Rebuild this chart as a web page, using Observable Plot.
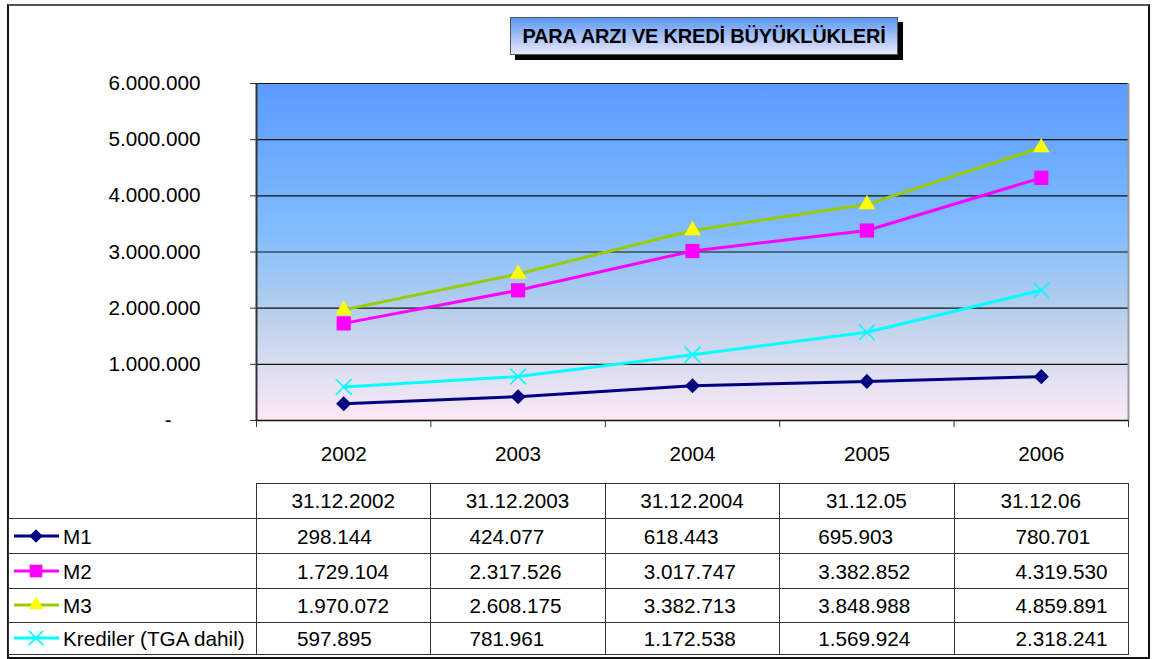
<!DOCTYPE html>
<html>
<head>
<meta charset="utf-8">
<script src="https://cdn.jsdelivr.net/npm/d3@7"></script>
<script src="https://cdn.jsdelivr.net/npm/@observablehq/plot@0.6"></script>
<style>
  body { margin: 0; background: #fff; font-family: Arial, "Liberation Sans", sans-serif; }
  #wrap { position: relative; width: 1153px; height: 659px; overflow: hidden; }
  #frame { position: absolute; left: 7px; top: 4px; width: 1139px; height: 651px; border: 2px solid #111; border-top-color: #555; box-sizing: content-box; }
  #title { position: absolute; left: 510px; top: 17px; width: 388px; height: 38px; box-sizing: border-box; border: 1px solid #555;
           background: linear-gradient(#5a98f4, #eae7fb); box-shadow: 5px 5px 0 #000; font-weight: bold; font-size: 20px;
           display: flex; align-items: center; justify-content: center; color: #000; white-space: nowrap; letter-spacing: -0.2px; }
  #chart { position: absolute; left: 0; top: 0; }
  .hl { position: absolute; height: 1px; background: #333; }
  .vl { position: absolute; width: 1px; background: #333; }
  .cell { position: absolute; font-size: 20.7px; line-height: 20px; color: #000; white-space: nowrap; }
</style>
</head>
<body>
<div id="wrap">
  <div id="frame"></div>
  <div id="chart"></div>
  <div id="title"></div>
  <div id="table"></div>
</div>
<script>
// ---- data ----
const chartTitle = "PARA ARZI VE KREDİ BÜYÜKLÜKLERİ";
const years = ["2002", "2003", "2004", "2005", "2006"];
const dates = ["31.12.2002", "31.12.2003", "31.12.2004", "31.12.05", "31.12.06"];
const seriesNames = ["M1", "M2", "M3", "Krediler (TGA dahil)"];
const m1 = [298144, 424077, 618443, 695903, 780701];
const m2 = [1729104, 2317526, 3017747, 3382852, 4319530];
const m3 = [1970072, 2608175, 3382713, 3848988, 4859891];
const krediler = [597895, 781961, 1172538, 1569924, 2318241];
const yTicks = [0, 1000000, 2000000, 3000000, 4000000, 5000000, 6000000];

// ---- styles ----
const seriesValues = [m1, m2, m3, krediler];
const seriesStyle = [
  {line: "#000080", fill: "#000080", stroke: "#000080", symbol: "diamond2", r: 6.8, sw: 0},
  {line: "#ff00ff", fill: "#ff00ff", stroke: "#ff00ff", symbol: "square", r: 8, sw: 0},
  {line: "#99cc00", fill: "#ffff00", stroke: "#ffff00", symbol: "triangle", r: 6.2, sw: 0},
  {line: "#00ffff", fill: "none", stroke: "#00ffff", symbol: "times", r: 7.3, sw: 1.6}
];

const tr = d3.formatLocale({decimal: ",", thousands: ".", grouping: [3], currency: ["", ""]});
const fmtNum = tr.format(",");
const fmtY = v => v === 0 ? "-" + "\u00a0".repeat(5) : fmtNum(v);

document.getElementById("title").textContent = chartTitle;

const W = 1153, H = 480;
const mL = 256, mR = 25, mT = 83, mB = 60;
const boundaries = d3.range(years.length + 1).map(i => i - 0.5);

const defsMark = () => {
  const defs = d3.create("svg:defs");
  const g = defs.append("linearGradient").attr("id", "bg").attr("x1", 0).attr("y1", 0).attr("x2", 0).attr("y2", 1);
  [[0, "#5c9bff"], [0.2, "#6aaaff"], [0.45, "#84bdfc"], [0.7, "#bcd1ec"], [0.85, "#dcdff1"], [1, "#fde8f6"]]
    .forEach(([o, c]) => g.append("stop").attr("offset", o).attr("stop-color", c));
  return defs.node();
};

const marks = [
  defsMark,
  Plot.frame({fill: "url(#bg)", stroke: "none"}),
  Plot.ruleY(yTicks.slice(1), {stroke: "#111", strokeWidth: 1.2}),
  Plot.ruleX([boundaries[boundaries.length - 1]], {stroke: "#9a9a9a", strokeWidth: 2}),
  Plot.ruleX([boundaries[0]], {stroke: "#333", strokeWidth: 2}),
  Plot.ruleY([0], {stroke: "#111", strokeWidth: 1.5}),
  Plot.axisY({ticks: yTicks, tickSize: 6, tickPadding: 50, tickFormat: fmtY, fontSize: 20.7, stroke: "#333", label: null}),
  Plot.axisX({ticks: boundaries, tickSize: 7, tickFormat: () => "", stroke: "#333", label: null}),
  Plot.axisX({ticks: d3.range(years.length), tickSize: 0, tickPadding: 26, tickFormat: i => years[i], fontSize: 20.7, label: null})
];

seriesValues.forEach((vals, s) => {
  const data = vals.map((v, i) => ({i, v}));
  const st = seriesStyle[s];
  marks.push(Plot.line(data, {x: "i", y: "v", stroke: st.line, strokeWidth: 3}));
  marks.push(Plot.dot(data, {x: "i", y: "v", symbol: () => st.symbol, r: st.r, fill: st.fill,
    stroke: st.stroke, strokeWidth: st.sw}));
});

const plot = Plot.plot({
  width: W, height: H,
  marginLeft: mL, marginRight: mR, marginTop: mT, marginBottom: mB,
  style: {fontFamily: "Arial, 'Liberation Sans', sans-serif", fontSize: "20px", background: "transparent", color: "#000"},
  x: {domain: [boundaries[0], boundaries[boundaries.length - 1]], label: null},
  y: {domain: [yTicks[0], yTicks[yTicks.length - 1]], label: null},
  symbol: {type: "identity"},
  marks
});
document.getElementById("chart").appendChild(plot);

// ---- data table below the chart, columns aligned to the x scale ----
const xs = plot.scale("x");
const colX = boundaries.map(b => xs.apply(b));
const tableLeft = 8;
const rowY = [483, 518, 553, 588, 622, 654];
const padLeft = [41, 39, 39, 39, 62];
const tbl = document.getElementById("table");
const add = (cls, css, html) => {
  const d = document.createElement("div");
  d.className = cls;
  Object.assign(d.style, css);
  if (html != null) d.textContent = html;
  tbl.appendChild(d);
  return d;
};
// horizontal lines
add("hl", {left: colX[0] + "px", top: rowY[0] + "px", width: (colX[colX.length - 1] - colX[0] + 1) + "px"});
rowY.slice(1).forEach(y => add("hl", {left: tableLeft + "px", top: y + "px", width: (colX[colX.length - 1] - tableLeft + 1) + "px"}));
// vertical lines
add("vl", {left: tableLeft + "px", top: rowY[1] + "px", height: (rowY[rowY.length - 1] - rowY[1] + 1) + "px"});
colX.forEach(x => add("vl", {left: Math.round(x) + "px", top: rowY[0] + "px", height: (rowY[rowY.length - 1] - rowY[0] + 1) + "px"}));
// header
dates.forEach((d, i) => {
  add("cell", {left: colX[i] + "px", width: (colX[i + 1] - colX[i]) + "px", textAlign: "center",
    top: ((rowY[0] + rowY[1]) / 2 - 10) + "px"}, d);
});
// rows
seriesNames.forEach((name, s) => {
  const yc = (rowY[s + 1] + rowY[s + 2]) / 2;
  const st = seriesStyle[s];
  // legend key
  const svg = d3.create("svg").attr("width", 50).attr("height", 20)
    .style("position", "absolute").style("left", "12px").style("top", (yc - 10) + "px");
  svg.append("line").attr("x1", 2).attr("x2", 47).attr("y1", 10).attr("y2", 10)
    .attr("stroke", st.line).attr("stroke-width", 3);
  const symMap = {diamond2: d3.symbolDiamond2, square: d3.symbolSquare, triangle: d3.symbolTriangle, times: d3.symbolTimes};
  svg.append("path").attr("transform", "translate(24,10)")
    .attr("d", d3.symbol(symMap[st.symbol], Math.PI * st.r * st.r * 0.8)())
    .attr("fill", st.fill).attr("stroke", st.stroke).attr("stroke-width", st.sw);
  tbl.appendChild(svg.node());
  add("cell", {left: "63px", top: (yc - 9) + "px"}, name);
  seriesValues[s].forEach((v, i) => {
    add("cell", {left: (colX[i] + padLeft[i]) + "px", top: (yc - 9) + "px"}, fmtNum(v));
  });
});
</script>
</body>
</html>
